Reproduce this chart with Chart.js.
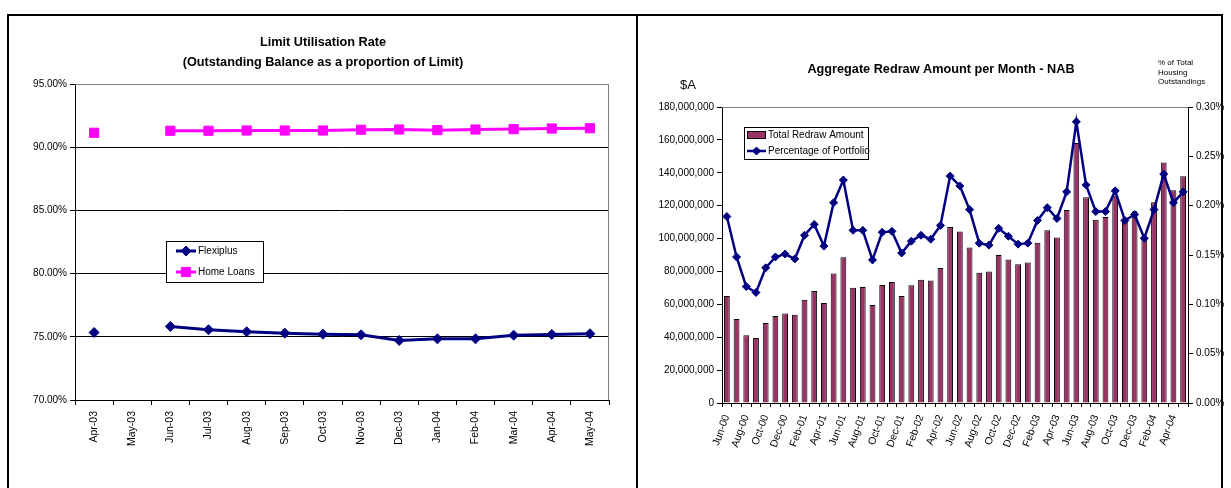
<!DOCTYPE html>
<html>
<head>
<meta charset="utf-8">
<script src="https://cdn.jsdelivr.net/npm/chart.js@4.4.1/dist/chart.umd.min.js"></script>
<style>
  html, body { margin: 0; padding: 0; background: #fff; width: 1231px; height: 488px; overflow: hidden; }
  canvas { position: absolute; top: 0; }
  #utilChart { left: 0; }
  #redrawChart { left: 640px; }
  .panel { position: absolute; box-sizing: border-box; border: 2px solid #000; border-bottom: none; }
</style>
</head>
<body>
<canvas id="utilChart" width="637" height="488"></canvas>
<canvas id="redrawChart" width="591" height="488"></canvas>
<div class="panel" style="left:7px; top:14px; width:631px; height:480px;"></div>
<div class="panel" style="left:636px; top:14px; width:587px; height:480px; border-left:none;"></div>

<script>
// ---- Limit utilisation rate (per cent of limit) ----
const utilMonths = ['Apr-03', 'May-03', 'Jun-03', 'Jul-03', 'Aug-03', 'Sep-03', 'Oct-03',
                    'Nov-03', 'Dec-03', 'Jan-04', 'Feb-04', 'Mar-04', 'Apr-04', 'May-04'];
const flexiplusRate = [75.34, null, 75.82, 75.56, 75.40, 75.29, 75.21,
                       75.16, 74.71, 74.84, 74.84, 75.13, 75.19, 75.24];
const homeLoansRate = [91.14, null, 91.30, 91.30, 91.32, 91.32, 91.32,
                       91.38, 91.40, 91.35, 91.40, 91.43, 91.48, 91.50];

// ---- Aggregate redraw amount per month ----
const redrawMonths = [
  'Jun-00', 'Jul-00', 'Aug-00', 'Sep-00', 'Oct-00', 'Nov-00', 'Dec-00',
  'Jan-01', 'Feb-01', 'Mar-01', 'Apr-01', 'May-01', 'Jun-01', 'Jul-01', 'Aug-01', 'Sep-01', 'Oct-01', 'Nov-01', 'Dec-01',
  'Jan-02', 'Feb-02', 'Mar-02', 'Apr-02', 'May-02', 'Jun-02', 'Jul-02', 'Aug-02', 'Sep-02', 'Oct-02', 'Nov-02', 'Dec-02',
  'Jan-03', 'Feb-03', 'Mar-03', 'Apr-03', 'May-03', 'Jun-03', 'Jul-03', 'Aug-03', 'Sep-03', 'Oct-03', 'Nov-03', 'Dec-03',
  'Jan-04', 'Feb-04', 'Mar-04', 'Apr-04', 'May-04'
];
// $A
const redrawAmount = [
  65000000, 51100000, 41200000, 39500000, 48700000, 52900000, 54500000,
  53700000, 62800000, 68100000, 60800000, 78700000, 88600000, 70100000, 70500000, 59600000, 71800000, 73600000, 65100000,
  71600000, 75000000, 74500000, 82100000, 107000000, 104300000, 94500000, 79200000, 79900000, 90000000, 87200000, 84300000,
  85500000, 97400000, 105100000, 100700000, 117300000, 158100000, 125100000, 111500000, 113100000, 126000000, 110000000, 116600000,
  101000000, 122100000, 146200000, 129300000, 137900000
];
// % of total housing outstandings
const portfolioPct = [
  0.189, 0.148, 0.118, 0.112, 0.137, 0.148, 0.151,
  0.146, 0.170, 0.181, 0.159, 0.203, 0.226, 0.175, 0.175, 0.145, 0.173, 0.174, 0.152,
  0.164, 0.170, 0.166, 0.180, 0.230, 0.220, 0.196, 0.162, 0.160, 0.177, 0.169, 0.161,
  0.162, 0.185, 0.198, 0.187, 0.214, 0.285, 0.221, 0.194, 0.194, 0.215, 0.185, 0.191,
  0.167, 0.196, 0.232, 0.203, 0.214
];

Chart.defaults.font.family = "'Liberation Sans', Arial, Helvetica, sans-serif";
Chart.defaults.font.size = 10;
Chart.defaults.color = '#000';
Chart.defaults.animation = false;

// Thin grey frame along the top (and optionally right) edge of the plot area
const plotFrame = {
  id: 'plotFrame',
  beforeDatasetsDraw(chart, args, o) {
    const a = chart.chartArea, c = chart.ctx;
    c.save();
    c.strokeStyle = o.color || '#808080';
    c.lineWidth = 1;
    c.beginPath();
    c.moveTo(a.left, a.top + 0.5);
    c.lineTo(a.right, a.top + 0.5);
    if (o.right) {
      c.moveTo(a.right - 0.5, a.top);
      c.lineTo(a.right - 0.5, a.bottom);
    }
    c.stroke();
    c.restore();
  }
};

// Boxed legend placed inside the plot area
const boxLegend = {
  id: 'boxLegend',
  afterDatasetsDraw(chart, args, o) {
    const a = chart.chartArea, c = chart.ctx;
    const x = a.left + o.dx, y = a.top + o.dy;
    c.save();
    c.fillStyle = '#fff';
    c.fillRect(x, y, o.w, o.h);
    c.strokeStyle = '#000';
    c.lineWidth = 1;
    c.strokeRect(Math.round(x) + 0.5, Math.round(y) + 0.5, o.w, o.h);
    c.font = "10px 'Liberation Sans', Arial, sans-serif";
    c.textBaseline = 'middle';
    chart.data.datasets.forEach((ds, i) => {
      const cy = y + o.firstY + i * o.rowH;
      const sx = x + o.sampleX;
      if (ds.type === 'bar') {
        c.fillStyle = ds.backgroundColor;
        c.fillRect(sx, cy - 4, o.sampleW, 8);
        c.strokeStyle = '#000';
        c.strokeRect(sx + 0.5, cy - 3.5, o.sampleW - 1, 7);
      } else {
        c.strokeStyle = ds.borderColor;
        c.lineWidth = ds.borderWidth;
        c.beginPath();
        c.moveTo(sx, cy);
        c.lineTo(sx + o.sampleW, cy);
        c.stroke();
        c.fillStyle = ds.backgroundColor;
        c.lineWidth = 1;
        Chart.helpers.drawPoint(c, {
          pointStyle: ds.pointStyle, rotation: 0,
          radius: ds.pointRadius, borderWidth: 1
        }, sx + o.sampleW / 2, cy);
      }
      c.fillStyle = '#000';
      c.fillText(ds.label, x + o.textX, cy);
    });
    c.restore();
  }
};

// Free-standing axis captions
const axisNotes = {
  id: 'axisNotes',
  afterDraw(chart, args, o) {
    const a = chart.chartArea, c = chart.ctx;
    c.save();
    c.fillStyle = '#000';
    c.textBaseline = 'middle';
    o.items.forEach(it => {
      c.font = it.font;
      c.textAlign = it.align;
      const bx = it.from === 'right' ? a.right : a.left;
      it.lines.forEach((t, k) => c.fillText(t, bx + it.dx, a.top + it.dy + k * (it.lineH || 0)));
    });
    c.restore();
  }
};

// ---------- Limit Utilisation Rate ----------
new Chart(document.getElementById('utilChart'), {
  type: 'line',
  data: {
    labels: utilMonths,
    datasets: [
      {
        label: 'Flexiplus', data: flexiplusRate,
        borderColor: '#000080', backgroundColor: '#000080', borderWidth: 3,
        pointStyle: 'rectRot', pointRadius: 5, pointBorderWidth: 1,
        spanGaps: false, tension: 0, yAxisID: 'y'
      },
      {
        label: 'Home Loans', data: homeLoansRate,
        borderColor: '#FF00FF', backgroundColor: '#FF00FF', borderWidth: 3,
        pointStyle: 'rect', pointRadius: 6.5, pointBorderWidth: 1,
        spanGaps: false, tension: 0, yAxisID: 'y'
      }
    ]
  },
  options: {
    responsive: false,
    layout: { padding: { left: 9, right: 0, top: 0, bottom: 0 } },
    plugins: {
      legend: { display: false },
      tooltip: { enabled: false },
      title: {
        display: true,
        text: ['Limit Utilisation Rate', '(Outstanding Balance as a proportion of Limit)'],
        color: '#000',
        font: { size: 12.7, weight: 'bold', lineHeight: '20px' },
        padding: { top: 32, bottom: 12 }
      },
      plotFrame: { color: '#808080', right: true },
      boxLegend: { dx: 91, dy: 157, w: 97, h: 41, firstY: 10, rowH: 21, sampleX: 10, sampleW: 20, textX: 32 }
    },
    scales: {
      x: {
        offset: true,
        grid: { offset: true, drawOnChartArea: false, drawTicks: true, tickLength: 5, color: '#000' },
        border: { color: '#000', width: 1 },
        ticks: { autoSkip: false, minRotation: 90, maxRotation: 90, padding: 6, font: { size: 10.5 } },
        afterFit(s) { s.height = 88; }
      },
      y: {
        position: 'left', min: 70, max: 95,
        ticks: { stepSize: 5, padding: 3, font: { size: 10 }, callback: v => v.toFixed(2) + '%' },
        grid: {
          color: ctx => (ctx.tick && ctx.tick.value === 95) ? 'rgba(0,0,0,0)' : '#000',
          tickColor: '#000', tickLength: 5, lineWidth: 1
        },
        border: { color: '#000', width: 1 },
        afterFit(s) { s.width = 66; }
      },
      // empty margin on the right of the plot
      yPad: {
        position: 'right', display: true, min: 0, max: 1,
        ticks: { display: false },
        grid: { display: false, drawTicks: false },
        border: { display: false },
        afterFit(s) { s.width = 28; }
      }
    }
  },
  plugins: [plotFrame, boxLegend]
});

// ---------- Aggregate Redraw Amount per Month ----------
new Chart(document.getElementById('redrawChart'), {
  type: 'bar',
  data: {
    labels: redrawMonths,
    datasets: [
      {
        type: 'bar', label: 'Total Redraw Amount', data: redrawAmount,
        backgroundColor: '#993366', borderColor: '#000', borderWidth: 1,
        barPercentage: 0.6, categoryPercentage: 1, yAxisID: 'y', order: 1
      },
      {
        type: 'line', label: 'Percentage of Portfolio', data: portfolioPct,
        borderColor: '#000080', backgroundColor: '#000080', borderWidth: 2.5,
        pointStyle: 'rectRot', pointRadius: 4, pointBorderWidth: 1,
        tension: 0, yAxisID: 'y1', order: 0
      }
    ]
  },
  options: {
    responsive: false,
    layout: { padding: { left: 11, right: 0, top: 0, bottom: 0 } },
    plugins: {
      legend: { display: false },
      tooltip: { enabled: false },
      title: {
        display: true,
        text: 'Aggregate Redraw Amount per Month - NAB',
        color: '#000',
        font: { size: 12.7, weight: 'bold', lineHeight: '16px' },
        padding: { top: 61, bottom: 30 }
      },
      plotFrame: { color: '#808080', right: false },
      boxLegend: { dx: 22, dy: 20, w: 124, h: 32, firstY: 8, rowH: 16, sampleX: 3, sampleW: 19, textX: 24 },
      axisNotes: {
        items: [
          { lines: ['$A'], from: 'left', dx: -34, dy: -22, align: 'center',
            font: "13px 'Liberation Sans', Arial, sans-serif" },
          { lines: ['% of Total', 'Housing', 'Outstandings'], from: 'right', dx: -30, dy: -44, lineH: 9.5,
            align: 'left', font: "8px 'Liberation Sans', Arial, sans-serif" }
        ]
      }
    },
    scales: {
      x: {
        offset: true,
        grid: { offset: true, drawOnChartArea: false, drawTicks: true, tickLength: 4, color: '#000' },
        border: { color: '#000', width: 1 },
        ticks: {
          autoSkip: false, minRotation: 70, maxRotation: 70, padding: 6, font: { size: 10.5 },
          callback: (v, i) => (i % 2 === 0 ? redrawMonths[i] : '')
        },
        afterFit(s) { s.height = 85; }
      },
      y: {
        position: 'left', min: 0, max: 180000000,
        ticks: { stepSize: 20000000, padding: 3, font: { size: 10 }, callback: v => v.toLocaleString('en-US') },
        grid: { drawOnChartArea: false, tickLength: 5, color: '#000' },
        border: { color: '#000', width: 1 },
        afterFit(s) { s.width = 71; }
      },
      y1: {
        position: 'right', min: 0, max: 0.30,
        ticks: { stepSize: 0.05, padding: 3, font: { size: 10 }, callback: v => v.toFixed(2) + '%' },
        grid: { drawOnChartArea: false, tickLength: 5, color: '#000' },
        border: { color: '#000', width: 1 },
        afterFit(s) { s.width = 43; }
      }
    }
  },
  plugins: [plotFrame, boxLegend, axisNotes]
});
</script>
</body>
</html>
